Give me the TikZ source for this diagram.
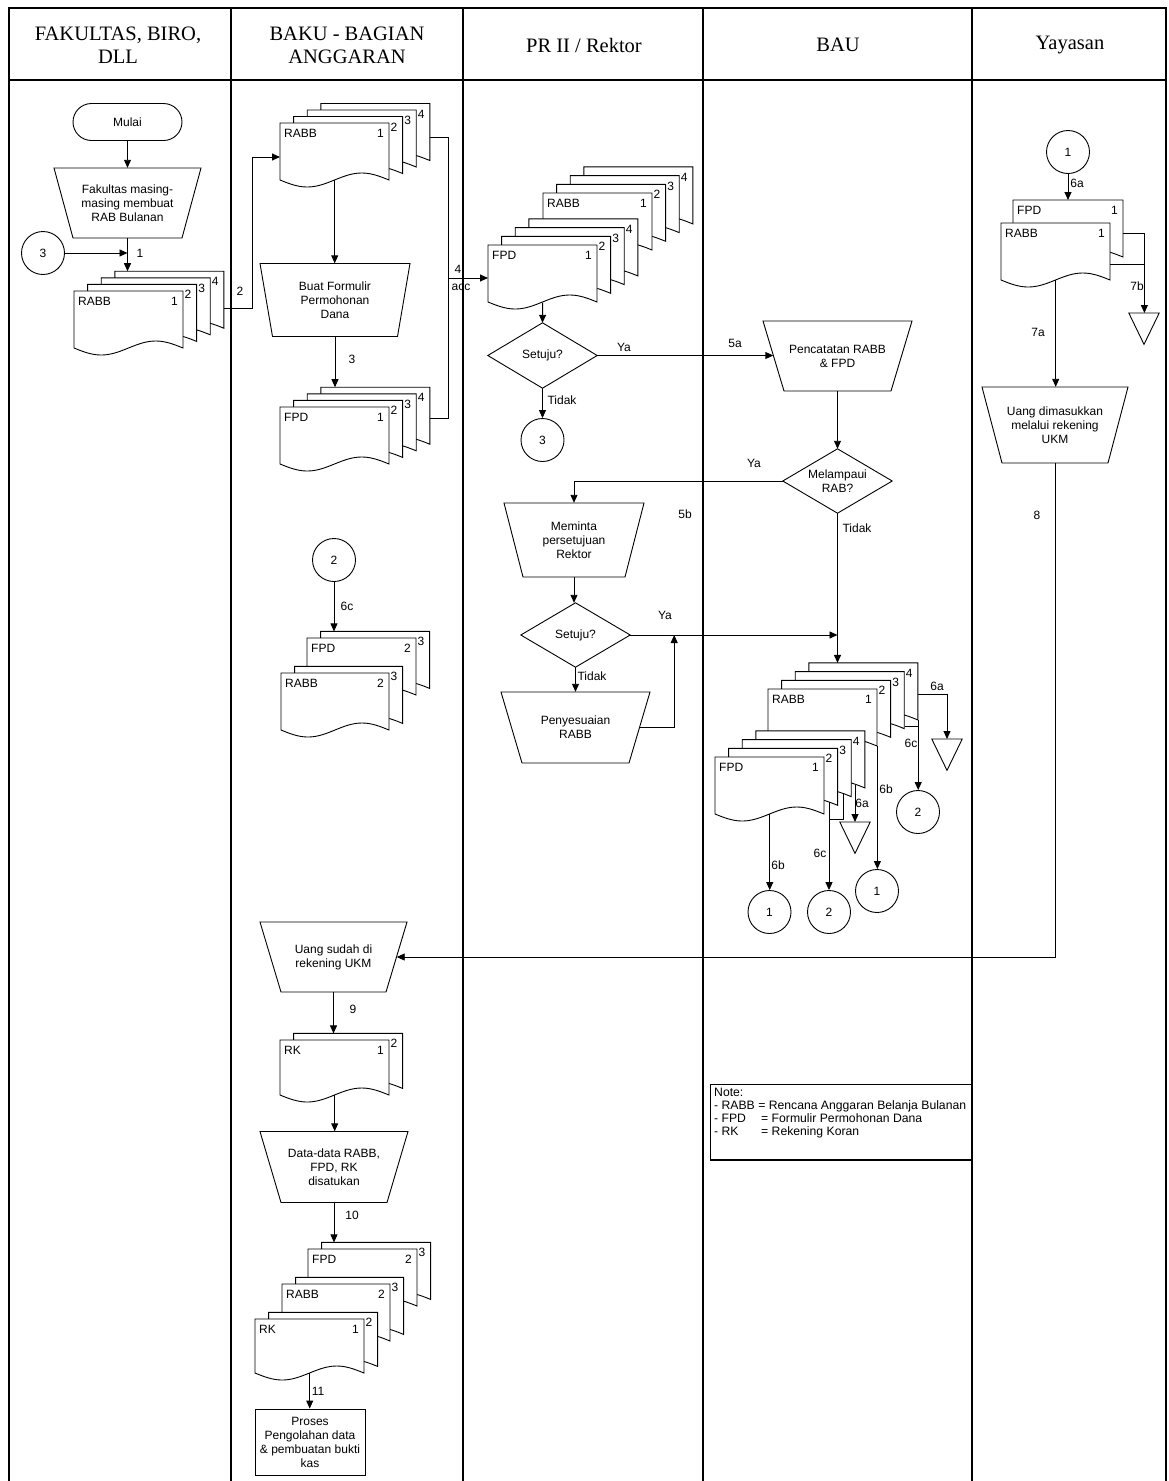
\documentclass[tikz,border=0pt]{standalone}
\usepackage{fontspec}
\setmainfont{Liberation Sans}
\newfontfamily\headfont{Liberation Serif}
\usetikzlibrary{arrows.meta,calc}

\tikzset{
  ln/.style={line width=0.9pt, line join=miter},
  flow/.style={ln, -{Triangle[length=8pt,width=7pt]}},
  lbl/.style={font=\fontsize{12}{14}\selectfont, inner sep=0pt},
  boxtext/.style={font=\fontsize{12}{14}\selectfont, align=center, inner sep=0pt},
  conn/.style={draw, ln, circle, minimum size=43pt, inner sep=0pt, font=\fontsize{12}{14}\selectfont},
  terminal/.style={draw, ln, rounded corners=18.5pt, minimum width=109pt, minimum height=37pt, inner sep=0pt, font=\fontsize{12}{14}\selectfont},
  lane/.style={line width=1.2pt},
  head/.style={font=\headfont\fontsize{20.5}{23}\selectfont, align=center, inner sep=0pt},
}

% one document sheet: name, x, y (top left), width, height, left text, number
\newcommand{\sheet}[7]{%
  \filldraw[ln, fill=white] (#2,#3) -- ({#2+#4},#3) -- ({#2+#4},{#3+#5})
     -- plot[variable=\t, domain=1:0, samples=41, smooth] ({#2+\t*#4},{#3+#5+7*sin(360*\t)}) -- cycle;
  \node[inner sep=0pt, minimum width=#4pt, minimum height=#5pt, anchor=north west] (#1) at (#2,#3) {};
  \node[lbl, anchor=base west] at ({#2+4},{#3+14.5}) {#6};
  \node[lbl, anchor=base east] at ({#2+#4-5},{#3+14.5}) {#7};
}
% stack of copies: name, x, y of front sheet, width, height, vertical step, last index, text, first number
\newcommand{\docstack}[9]{%
  \foreach \k in {#7,...,0}{%
    \pgfmathsetmacro{\sx}{#2+13.6*\k}%
    \pgfmathsetmacro{\sy}{#3+#6*\k}%
    \pgfmathtruncatemacro{\sn}{#9+\k}%
    \ifnum\k=0 \sheet{#1\k}{\sx}{\sy}{#4}{#5}{#8}{\sn}\else \sheet{#1\k}{\sx}{\sy}{#4}{#5}{}{\sn}\fi
  }%
}
% manual operation: name, cx, cy, top width, bottom width, height, text
\newcommand{\manop}[7]{%
  \node[boxtext, minimum width={(#4+#5)/2}, minimum height=#6pt] (#1) at (#2,#3) {#7};
  \draw[ln] ({#2-#4/2},{#3-#6/2}) -- ({#2+#4/2},{#3-#6/2}) -- ({#2+#5/2},{#3+#6/2}) -- ({#2-#5/2},{#3+#6/2}) -- cycle;
}
% decision: name, cx, cy, width, height, text
\newcommand{\decide}[6]{%
  \node[boxtext, minimum width=#4pt, minimum height=#5pt] (#1) at (#2,#3) {#6};
  \draw[ln] (#1.north) -- (#1.east) -- (#1.south) -- (#1.west) -- cycle;
}
% storage triangle: name, x, top y
\newcommand{\merge}[3]{%
  \node[inner sep=0pt, minimum width=30pt, minimum height=31pt, anchor=north] (#1) at (#2,#3) {};
  \draw[ln] (#1.north west) -- (#1.north east) -- (#1.south) -- cycle;
}

\begin{document}
\begin{tikzpicture}[x=1pt,y=-1pt]
\useasboundingbox (0,0) rectangle (1168,1481);

% swimlanes
\draw[lane] (9,1481) -- (9,8) -- (1166,8) -- (1166,1481);
\draw[line width=2pt] (9,80) -- (1166,80);
\foreach \xx in {231,463,703,972} \draw[lane] (\xx,8) -- (\xx,1481);
\node[head] (h1) at (118,45) {FAKULTAS, BIRO,\\DLL};
\node[head] (h2) at (347,45) {BAKU - BAGIAN\\ANGGARAN};
\node[head] (h3) at (584,45) {PR II / Rektor};
\node[head] (h4) at (838,45) {BAU};
\node[head] (h5) at (1070,45) {Yayasan};

% ---- FAKULTAS, BIRO, DLL
\node[terminal] (mulai) at (127.5,122) {Mulai};
\manop{fak}{127.5}{203}{147}{109}{70}{Fakultas masing-\\masing membuat\\RAB Bulanan}
\node[conn] (cthree) at (43,253) {3};
\docstack{fa}{74}{291}{109}{57}{-6.6}{3}{RABB}{1}

% ---- BAKU - BAGIAN ANGGARAN
\docstack{br}{280}{123}{109}{57}{-6.5}{3}{RABB}{1}
\manop{buat}{335}{300}{150}{125}{73}{Buat Formulir\\Permohonan\\Dana}
\docstack{bf}{280}{407}{109}{57}{-6.6}{3}{FPD}{1}
\node[conn] (ctwoa) at (334,560) {2};
\docstack{bmf}{307}{638}{109}{57}{-6.6}{1}{FPD}{2}
\docstack{bmr}{281}{673}{108}{57}{-6.6}{1}{RABB}{2}
\manop{usd}{333.5}{957}{147}{105}{70}{Uang sudah di\\rekening UKM}
\docstack{rk}{280}{1040}{109}{55}{-6.6}{1}{RK}{1}
\manop{dat}{334}{1167}{148}{106}{71}{Data-data RABB,\\FPD, RK\\disatukan}
\docstack{ff}{308}{1249}{109}{57}{-6.6}{1}{FPD}{2}
\docstack{fr}{282}{1284}{108}{57}{-6.6}{1}{RABB}{2}
\docstack{fk}{255}{1319}{109}{54}{-6.6}{1}{RK}{1}
\node[draw, ln, boxtext, minimum width=110pt, minimum height=66pt] (proses) at (310,1442) {Proses\\Pengolahan data\\\& pembuatan bukti\\kas};

% ---- PR II / Rektor
\docstack{pr}{543}{193}{109}{57}{-8.7}{3}{RABB}{1}
\docstack{pf}{488}{245}{109}{57}{-8.7}{3}{FPD}{1}
\decide{setA}{542.5}{355.5}{109}{65}{Setuju?}
\node[conn] (cthreeb) at (542.5,440) {3};
\manop{mem}{574}{540}{140}{102}{74}{Meminta\\persetujuan\\Rektor}
\decide{setB}{575.5}{635}{109}{64}{Setuju?}
\manop{peny}{575.5}{727.5}{149}{107}{71}{Penyesuaian\\RABB}

% ---- BAU
\manop{pen}{837.5}{356}{149}{107}{70}{Pencatatan RABB\\\& FPD}
\decide{mel}{837.5}{481}{109}{64}{Melampaui\\RAB?}
\docstack{ur}{768}{689}{109}{57}{-8.7}{3}{RABB}{1}
\docstack{uf}{715}{757}{109}{57}{-8.7}{3}{FPD}{1}
\merge{trA}{947}{739}
\merge{trB}{855}{822}
\node[conn] (ctwob) at (918,812) {2};
\node[conn] (coneb) at (877,891) {1};
\node[conn] (conea) at (769.5,912) {1};
\node[conn] (ctwoc) at (829,912) {2};

% ---- Yayasan
\node[conn] (coney) at (1068,152) {1};
\sheet{yf0}{1013}{200}{110}{57}{FPD}{1}
\sheet{yr0}{1001}{223}{109}{57}{RABB}{1}
\merge{trC}{1144}{313}
\manop{uang}{1055}{425}{146}{106}{76}{Uang dimasukkan\\melalui rekening\\UKM}

% ---- note
\draw[ln] (710,1084) -- (972,1084);
\draw[ln] (710,1084) -- (710,1160);
\draw[line width=2pt] (710,1160) -- (972,1160);
\node[anchor=north west, inner sep=0pt, align=left, font=\fontsize{12.2}{13}\selectfont] (note) at (714,1088)
  {Note:\\- RABB = Rencana Anggaran Belanja Bulanan\\\makebox[47pt][l]{- FPD}= Formulir Permohonan Dana\\\makebox[47pt][l]{- RK}= Rekening Koran};

% ---- connectors
\draw[flow] (mulai.south) -- (fak.north);
\draw[flow] (fak.south) -- (fak.south |- fa3.north);
\draw[flow] (cthree.east) -- (cthree.east -| fak.south);
\draw[flow] ($(fa3.north east)+(0,37)$) -- ++(28,0) |- ($(br0.north west)+(0,34)$);
\draw[flow] (br0.south) -- (br0.south |- buat.north);
\draw[flow] (buat.south) -- (buat.south |- bf3.north);
\coordinate (accM) at ($(br3.north east)+(18.2,174.5)$);
\draw[ln] ($(br3.north east)+(0,33.5)$) -| ($(bf3.north east)+(18.2,30.8)$) -- ($(bf3.north east)+(0,30.8)$);
\draw[flow] (accM) -- (accM -| pf0.west);
\draw[flow] (pf0.south) -- (setA.north);
\draw[flow] (setA.south) -- (cthreeb.north);
\draw[flow] (setA.east) -- (setA.east -| pen.west);
\draw[flow] (pen.south) -- (mel.north);
\draw[flow] (mel.west) -| (mem.north);
\draw[flow] (mem.south) -- (mem.south |- setB.north);
\draw[flow] (setB.south) -- (peny.north);
\draw[flow] (setB.east) -- (setB.east -| mel.south);
\coordinate (ret) at ($(setB.east)+(44,0)$);
\draw[flow] (peny.east) -| (ret);
\draw[flow] (mel.south) -- (mel.south |- ur3.north);

% BAU distribution
\draw[flow] ($(ur3.north east)+(0,32)$) -| (trA.north);
\draw[ln] ($(ur2.north east)+(0,54.5)$) -- ++(14,0);
\draw[flow] (ur3.south east) -- (ur3.south east |- ctwob.north);
\draw[flow] (ur0.south east) -- (ur0.south east |- coneb.north);
\coordinate (fa6) at ($(uf3.south west)+(99.2,-3.7)$);
\coordinate (fc6) at ($(uf1.south west)+(100.4,-3.3)$);
\coordinate (fc6b) at ($(uf2.south west)+(100.8,-3.1)$);
\draw[flow] (fa6) -- (fa6 |- trB.north);
\draw[flow] (fc6) -- (fc6 |- ctwoc.north);
\draw[ln] (fc6b) |- ($(fc6)+(0,17)$);
\draw[flow] (uf0.south) -- (uf0.south |- conea.north);

% Yayasan
\draw[flow] (coney.south) -- (coney.south |- yf0.north);
\coordinate (j7) at ($(yf0.north east)+(21,33)$);
\draw[ln] ($(yf0.north east)+(0,33)$) -- (j7);
\draw[ln] ($(yr0.north east)+(0,41)$) -- ++(34,0);
\draw[flow] (j7) -- (j7 |- trC.north);
\draw[flow] (yr0.south) -- (yr0.south |- uang.north);
\draw[flow] (uang.south) |- (usd.east);

% BAKU lower part
\draw[flow] (ctwoa.south) -- (ctwoa.south |- bmf1.north);
\draw[flow] (usd.south) -- (usd.south |- rk1.north);
\draw[flow] (rk0.south) -- (rk0.south |- dat.north);
\draw[flow] (dat.south) -- (dat.south |- ff1.north);
\draw[flow] (fk0.south) -- (fk0.south |- proses.north);

% ---- connector labels
\node[lbl] at (140,253) {1};
\node[lbl] at (240,291) {2};
\node[lbl] at (352,359) {3};
\node[lbl] at (458,269) {4};
\node[lbl] at (461,287) {acc};
\node[lbl] at (624,347) {Ya};
\node[lbl] at (562,400) {Tidak};
\node[lbl] at (735,343) {5a};
\node[lbl] at (754,463) {Ya};
\node[lbl] at (857,528) {Tidak};
\node[lbl] at (685,514) {5b};
\node[lbl] at (665,615) {Ya};
\node[lbl] at (592,676) {Tidak};
\node[lbl] at (347,606) {6c};
\node[lbl] at (937,686) {6a};
\node[lbl] at (911,743) {6c};
\node[lbl] at (886,789) {6b};
\node[lbl] at (862,803) {6a};
\node[lbl] at (820,853) {6c};
\node[lbl] at (778,865) {6b};
\node[lbl] at (1077,183) {6a};
\node[lbl] at (1137,286) {7b};
\node[lbl] at (1038,332) {7a};
\node[lbl] at (1037,515) {8};
\node[lbl] at (353,1009) {9};
\node[lbl] at (352,1215) {10};
\node[lbl] at (318,1391) {11};
\end{tikzpicture}
\end{document}
